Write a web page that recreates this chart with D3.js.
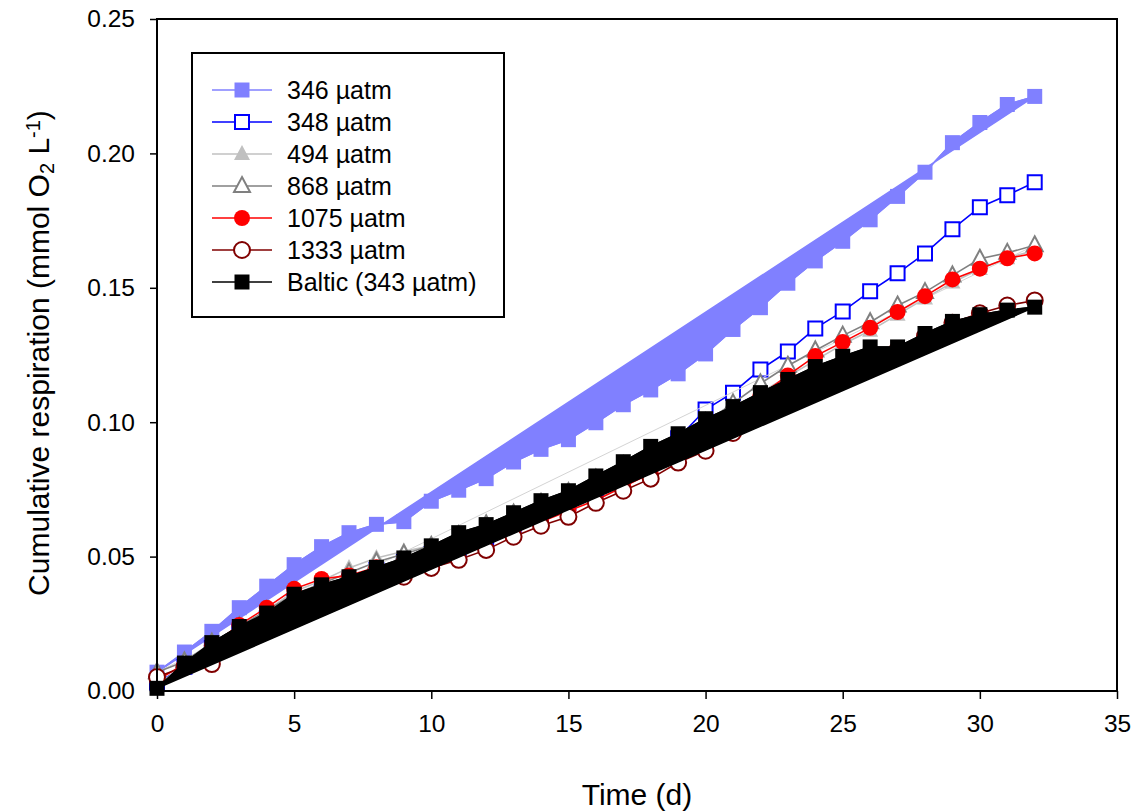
<!DOCTYPE html>
<html>
<head>
<meta charset="utf-8">
<style>
    body { margin: 0; background-color: #ffffff; }
    text { font-family: "Liberation Sans", Arial, sans-serif; }
</style>
</head>
<body>
<script src="https://d3js.org/d3.v7.min.js"></script>
<script>
    // time axis (days)
    var days = [0, 1, 2, 3, 4, 5, 6, 7, 8, 9, 10, 11, 12, 13, 14, 15, 16,
        17, 18, 19, 20, 21, 22, 23, 24, 25, 26, 27, 28, 29, 30, 31, 32];

    // cumulative respiration, mmol O2 / L
    var r346 = [0.007, 0.0145, 0.0222, 0.031, 0.039, 0.047, 0.0537, 0.0589, 0.062, 0.063,
        0.0706, 0.0747, 0.079, 0.0852, 0.0899, 0.0935, 0.0998, 0.1065, 0.112, 0.118,
        0.1254, 0.1345, 0.1426, 0.1517, 0.160, 0.1673, 0.1753, 0.184, 0.193, 0.204,
        0.2115, 0.2182, 0.2212];
    var r348 = [0.003, 0.009, 0.016, 0.022, 0.027, 0.033, 0.037, 0.041, 0.045, 0.048,
        0.051, 0.053, 0.056, 0.060, 0.065, 0.070, 0.075, 0.080, 0.086, 0.094,
        0.1047, 0.111, 0.1196, 0.1263, 0.1349, 0.1412, 0.1487, 0.1554, 0.1628, 0.1718,
        0.180, 0.1844, 0.1893];
    var r494 = [0.002, 0.010, 0.017, 0.024, 0.030, 0.037, 0.041, 0.0458, 0.0495, 0.052,
        0.054, 0.057, 0.061, 0.065, 0.069, 0.073, 0.078, 0.083, 0.088, 0.093,
        0.099, 0.105, 0.111, 0.117, 0.123, 0.129, 0.134, 0.140, 0.146, 0.152,
        0.157, 0.161, 0.164];
    var r868 = [0.007, 0.011, 0.018, 0.024, 0.030, 0.036, 0.040, 0.044, 0.048, 0.051,
        0.054, 0.058, 0.062, 0.066, 0.070, 0.074, 0.079, 0.084, 0.089, 0.094,
        0.100, 0.107, 0.1144, 0.121, 0.1267, 0.1322, 0.1372, 0.1434, 0.1484, 0.1546,
        0.1608, 0.163, 0.1658];
    var r1075 = [0.004, 0.010, 0.017, 0.0246, 0.031, 0.038, 0.0417, 0.043, 0.046, 0.048,
        0.051, 0.054, 0.057, 0.060, 0.063, 0.067, 0.071, 0.076, 0.081, 0.087,
        0.094, 0.103, 0.110, 0.1174, 0.1246, 0.1298, 0.1351, 0.141, 0.1469, 0.1531,
        0.1571, 0.161, 0.1628];
    var r1333 = [0.0052, 0.009, 0.010, 0.018, 0.024, 0.029, 0.033, 0.036, 0.040, 0.0425,
        0.0458, 0.0488, 0.0525, 0.0574, 0.0615, 0.0648, 0.070, 0.0745, 0.079, 0.085,
        0.0894, 0.096, 0.103, 0.108, 0.113, 0.118, 0.123, 0.127, 0.132, 0.137,
        0.1405, 0.1434, 0.1453];
    var rBaltic = [0.001, 0.0104, 0.018, 0.024, 0.029, 0.036, 0.0395, 0.0425, 0.046, 0.0495,
        0.054, 0.0589, 0.0619, 0.0663, 0.0708, 0.0745, 0.080, 0.0853, 0.091, 0.0957,
        0.1013, 0.1058, 0.111, 0.1159, 0.1207, 0.1245, 0.128, 0.128, 0.133, 0.1375,
        0.140, 0.1417, 0.1428];

    var seriesNames = ["346 µatm", "348 µatm", "494 µatm", "868 µatm", "1075 µatm", "1333 µatm", "Baltic (343 µatm)"];
    var seriesValues = [r346, r348, r494, r868, r1075, r1333, rBaltic];
    var xTicks = [0, 5, 10, 15, 20, 25, 30, 35];
    var yTicks = [0, 0.05, 0.10, 0.15, 0.20, 0.25];

    // look of each series: colour, symbol, open/filled, wedge fill
    var styles = [
        { color: "#8080ff", sym: "square", open: false, wedge: true },
        { color: "#0000ff", sym: "square", open: true, wedge: false },
        { color: "#c0c0c0", sym: "triangle", open: false, wedge: false },
        { color: "#808080", sym: "triangle", open: true, wedge: false, chord: "#d4d4d4" },
        { color: "#ff0000", sym: "circle", open: false, wedge: false },
        { color: "#800000", sym: "circle", open: true, wedge: false },
        { color: "#000000", sym: "square", open: false, wedge: true }
    ];

    var w = 1139, h = 812;
    var margin = { top: 19, right: 22, bottom: 121, left: 157 };

    var svg = d3.select("body").append("svg")
        .attr("width", w)
        .attr("height", h);

    var x = d3.scaleLinear().domain([0, 35]).range([margin.left, w - margin.right]);
    var y = d3.scaleLinear().domain([0, 0.25]).range([h - margin.bottom, margin.top]);

    function symbolPath(sym, cx, cy) {
        if (sym == "square") {
            var s = 7.5;
            return "M" + (cx - s) + "," + (cy - s) + "h" + 2 * s + "v" + 2 * s + "h" + (-2 * s) + "Z";
        }
        if (sym == "triangle") {
            return "M" + cx + "," + (cy - 9) + "L" + (cx + 8) + "," + (cy + 6) + "L" + (cx - 8) + "," + (cy + 6) + "Z";
        }
        return null;
    }

    function drawMarker(g, st, cx, cy) {
        var m;
        if (st.sym == "circle") {
            m = g.append("circle").attr("cx", cx).attr("cy", cy).attr("r", 8);
        } else {
            var sp = symbolPath(st.sym, cx, cy);
            if (st.sym == "square" && st.open) {
                sp = "M" + (cx - 7) + "," + (cy - 7) + "h14v14h-14Z";
            }
            m = g.append("path").attr("d", sp);
        }
        if (st.open) {
            m.attr("fill", "#ffffff").attr("stroke", st.color).attr("stroke-width", 2);
        } else {
            m.attr("fill", st.color).attr("stroke", "none");
        }
    }

    var line = d3.line()
        .x(function (d) { return x(d[0]); })
        .y(function (d) { return y(d[1]); });

    var plot = svg.append("g");

    seriesValues.forEach(function (vals, i) {
        var st = styles[i];
        var pts = days.map(function (d, j) { return [d, vals[j]]; });
        var g = plot.append("g");

        // closed shape: data, then straight back to the first point
        if (st.wedge) {
            g.append("path")
                .attr("d", line(pts) + "Z")
                .attr("fill", st.color)
                .attr("stroke", st.color)
                .attr("stroke-width", 1.5);
        }
        if (st.chord) {
            g.append("path")
                .attr("d", line([pts[0], pts[pts.length - 1]]))
                .attr("fill", "none")
                .attr("stroke", st.chord)
                .attr("stroke-width", 1);
        }
        g.append("path")
            .attr("d", line(pts))
            .attr("fill", "none")
            .attr("stroke", st.color)
            .attr("stroke-width", 1.6);

        pts.forEach(function (p) {
            drawMarker(g, st, x(p[0]), y(p[1]));
        });
    });

    // frame
    svg.append("rect")
        .attr("x", x(0)).attr("y", y(0.25))
        .attr("width", x(35) - x(0)).attr("height", y(0) - y(0.25))
        .attr("fill", "none").attr("stroke", "#000").attr("stroke-width", 2);

    // axes
    var xAxis = svg.append("g")
        .attr("transform", "translate(0," + y(0) + ")")
        .call(d3.axisBottom(x).tickValues(xTicks).tickSize(8).tickPadding(16).tickFormat(d3.format("d")));
    var yAxis = svg.append("g")
        .attr("transform", "translate(" + x(0) + ",0)")
        .call(d3.axisLeft(y).tickValues(yTicks).tickSize(7).tickPadding(15).tickFormat(d3.format(".2f")));

    [xAxis, yAxis].forEach(function (a) {
        a.select(".domain").remove();
        a.selectAll(".tick line").attr("stroke", "#000").attr("stroke-width", 1.5);
        a.selectAll(".tick text")
            .attr("fill", "#000")
            .style("font-size", "24.5px")
            .style("font-family", "'Liberation Sans', Arial, sans-serif");
    });

    // axis titles
    svg.append("text")
        .attr("x", (x(0) + x(35)) / 2)
        .attr("y", 805)
        .attr("text-anchor", "middle")
        .style("font-size", "30px")
        .text("Time (d)");

    var yt = svg.append("text")
        .attr("transform", "translate(49," + (y(0.125) - 2) + ") rotate(-90)")
        .attr("text-anchor", "middle")
        .style("font-size", "30px");
    yt.append("tspan").text("Cumulative respiration (mmol O");
    yt.append("tspan").attr("baseline-shift", "-25%").style("font-size", "20px").text("2");
    yt.append("tspan").text(" L");
    yt.append("tspan").attr("baseline-shift", "45%").style("font-size", "20px").text("-1");
    yt.append("tspan").text(")");

    // legend
    var lg = svg.append("g");
    lg.append("rect")
        .attr("x", 192).attr("y", 53)
        .attr("width", 312).attr("height", 264)
        .attr("fill", "#fff").attr("stroke", "#000").attr("stroke-width", 2);

    seriesNames.forEach(function (name, i) {
        var st = styles[i];
        var cy = 90 + i * 32;
        lg.append("line")
            .attr("x1", 212).attr("x2", 272)
            .attr("y1", cy).attr("y2", cy)
            .attr("stroke", st.color).attr("stroke-width", 1.6);
        drawMarker(lg, st, 242, cy);
        lg.append("text")
            .attr("x", 287).attr("y", cy)
            .attr("dy", "0.35em")
            .style("font-size", "25px")
            .text(name);
    });
</script>
</body>
</html>
